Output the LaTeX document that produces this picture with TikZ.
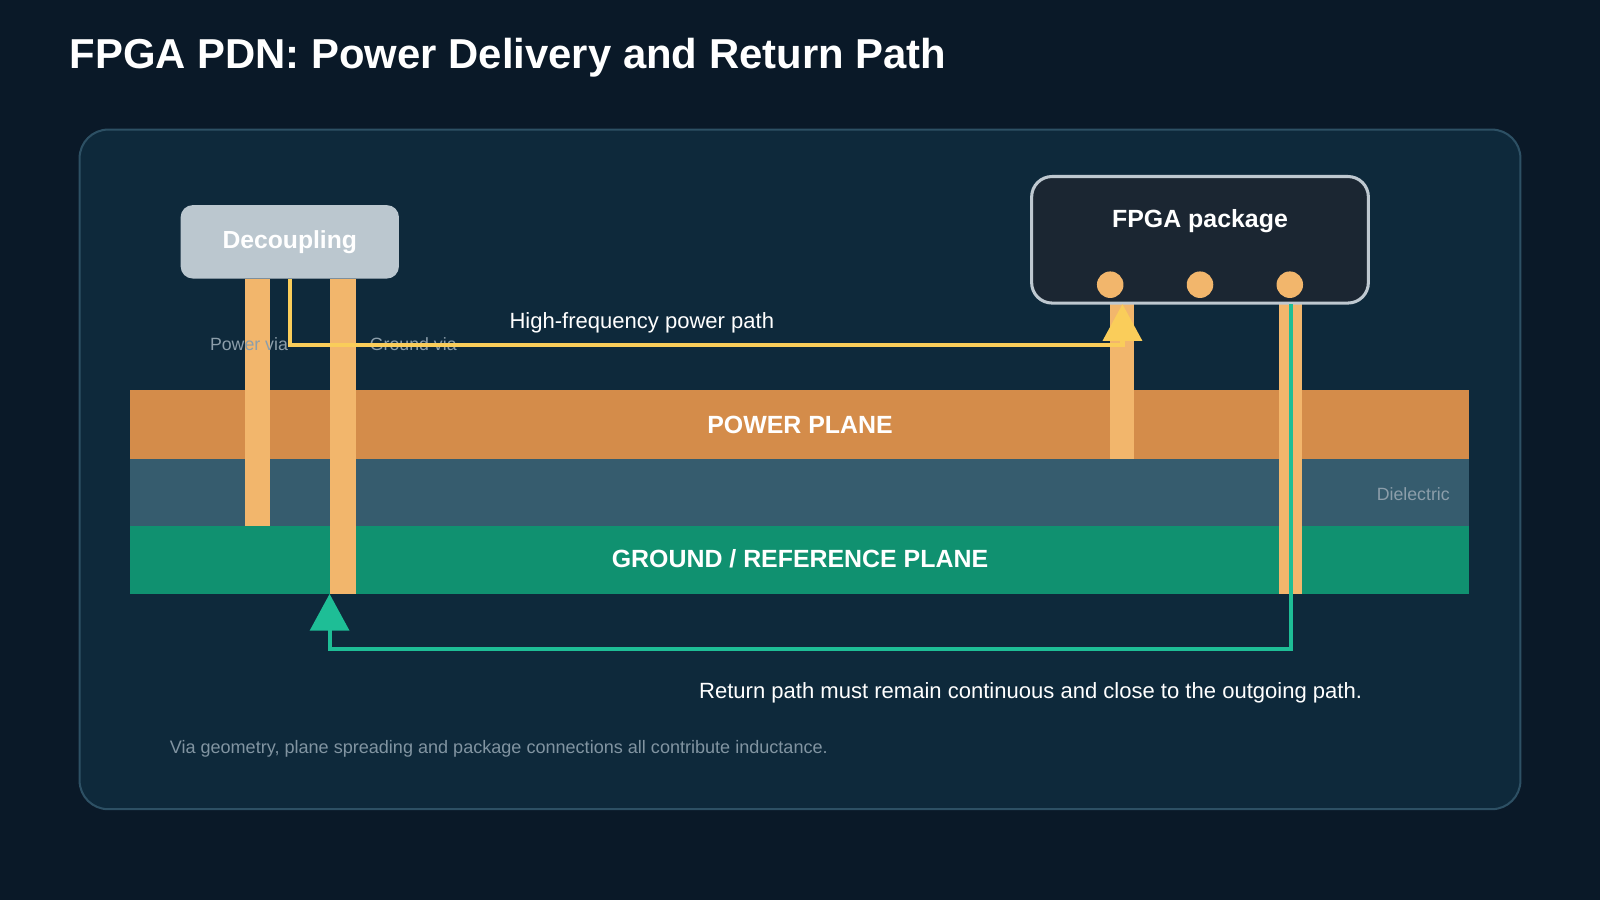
\documentclass[tikz,border=0pt]{standalone}
\usepackage{fontspec}
\setmainfont{Liberation Sans}
\usetikzlibrary{positioning,arrows.meta}
\definecolor{bgdark}{RGB}{10,25,40}
\definecolor{panelbg}{RGB}{14,41,59}
\definecolor{panelrim}{RGB}{45,80,100}
\definecolor{powercol}{RGB}{212,140,74}
\definecolor{dielcol}{RGB}{54,92,110}
\definecolor{gndcol}{RGB}{16,145,112}
\definecolor{viacol}{RGB}{242,182,108}
\definecolor{capcol}{RGB}{187,199,207}
\definecolor{fpgabg}{RGB}{27,38,50}
\definecolor{fpgarim}{RGB}{190,200,208}
\definecolor{hfcol}{RGB}{250,205,90}
\definecolor{retcol}{RGB}{30,190,150}
\definecolor{dimtxt}{RGB}{140,158,170}

\tikzset{
  plane/.style={draw=none, inner sep=0pt, text=white, font=\bfseries\fontsize{12.2}{14}\selectfont},
  via/.style={fill=viacol, draw=none},
  pad/.style={circle, fill=viacol, minimum size=13pt, inner sep=0pt},
  note/.style={text=dimtxt, font=\fontsize{8.7}{10}\selectfont},
  label/.style={text=white, font=\fontsize{10.8}{13}\selectfont}
}

\begin{document}
\begin{tikzpicture}[x=0.5pt, y=-0.5pt]
  \useasboundingbox (0,0) rectangle (1568,882);
  \fill[bgdark] (0,0) rectangle (1568,882);
  \node[anchor=west, inner sep=0pt, text=white, font=\bfseries\fontsize{20.5}{24}\selectfont] (title) at (68,57) {FPGA PDN: Power Delivery and Return Path};

  % panel
  \draw[panelrim, fill=panelbg, line width=1pt, rounded corners=14pt] (78,127) rectangle (1490,793);

  % stack-up
  \fill[powercol] (127,382) rectangle (1440,450);
  \fill[dielcol] (127,450) rectangle (1440,515);
  \fill[gndcol] (127,515) rectangle (1440,582);
  \node[plane] (pwr) at (784,416) {POWER PLANE};
  \node[plane] (gnd) at (784,548) {GROUND / REFERENCE PLANE};
  \node[note] (diel) at (1385,484) {Dielectric};

  % vias
  \fill[via] (240,273) rectangle (265,515);
  \fill[via] (323,273) rectangle (349,582);
  \fill[via] (1088,298) rectangle (1111,450);
  \fill[via] (1253,298) rectangle (1276,582);

  % parts
  \node[fill=capcol, rounded corners=6pt, minimum width=107pt, minimum height=36pt,
        text=white, font=\bfseries\fontsize{12.1}{14}\selectfont] (cap) at (284,237) {Decoupling};
  \node[fill=fpgabg, draw=fpgarim, line width=1.5pt, rounded corners=10pt,
        minimum width=165pt, minimum height=62pt] (fpga) at (1176,235) {};
  \node[text=white, font=\bfseries\fontsize{12.2}{14}\selectfont] (fpgatxt) at (1176,217) {FPGA package};
  \node[pad] (p1) at (1088,279) {};
  \node[pad] (p2) at (1176,279) {};
  \node[pad] (p3) at (1264,279) {};

  \node[note] (pvia) at (244,337) {Power via};
  \node[note] (gvia) at (405,337) {Ground via};

  % current paths
  \coordinate (hfa) at (284,338);
  \coordinate (hfb) at (1100,338);
  \coordinate (hfend) at (1100,298);
  \draw[hfcol, line width=2pt, -{Triangle[length=18pt, width=19pt]}]
    (cap.south) -- (hfa) -- (hfb) -- (hfend);
  \node[label] (hflbl) at (629,316) {High-frequency power path};

  \coordinate (rta) at (1265,636);
  \coordinate (rtb) at (323,636);
  \coordinate (rtend) at (323,582);
  \coordinate (rtstart) at (1265,298);
  \draw[retcol, line width=2pt, -{Triangle[length=18pt, width=19pt]}]
    (rtstart) -- (rta) -- (rtb) -- (rtend);
  \node[label] (rtlbl) at (1010,679) {Return path must remain continuous and close to the outgoing path.};

  \node[note, text=dimtxt!110, anchor=west, inner sep=0pt, font=\fontsize{8.85}{10}\selectfont] (foot) at (166,734) {Via geometry, plane spreading and package connections all contribute inductance.};
\end{tikzpicture}
\end{document}
